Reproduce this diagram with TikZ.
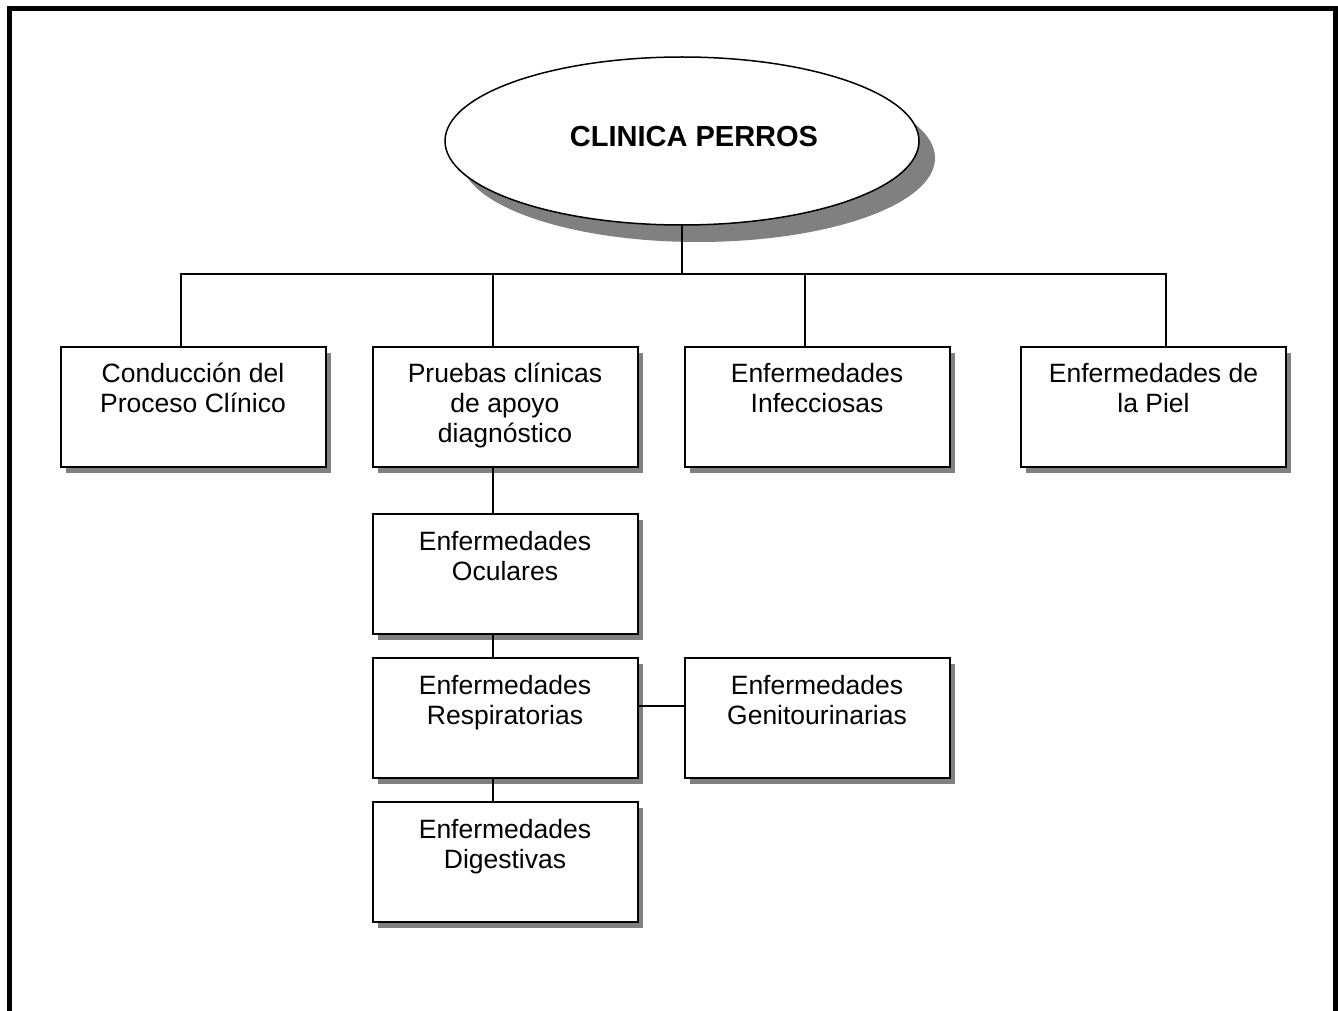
\documentclass[tikz,border=0pt]{standalone}
\usepackage{fontspec}
\setmainfont{Liberation Sans}
\usetikzlibrary{shapes.geometric,shadows}
\newcommand{\boxtext}[1]{\parbox[c][120pt][t]{255pt}{\fontsize{26.5}{30}\selectfont\centering\rule{0pt}{36pt}#1}}
\tikzset{
  area/.style={draw=black, line width=2pt, fill=white, inner sep=0pt,
    minimum width=265pt, minimum height=120pt,
    drop shadow={shadow xshift=5pt, shadow yshift=-6pt, fill=black!50, opacity=1}},
  link/.style={draw=black, line width=1.4pt}
}
\begin{document}
\begin{tikzpicture}[x=1pt,y=-1pt]
\useasboundingbox (0,0) rectangle (1338,1011);
\draw[line width=5pt] (9.5,1011) -- (9.5,8.5) -- (1335.5,8.5) -- (1335.5,1011);
\node[ellipse, draw=black, line width=1.5pt, fill=white, inner sep=0pt,
  minimum width=474pt, minimum height=168pt, text height=21pt, text depth=10pt,
  drop shadow={shadow xshift=16pt, shadow yshift=-17pt, fill=black!50, opacity=1},
  font=\bfseries\fontsize{29}{34}\selectfont] (clinica) at (682,141) {\hspace*{24pt}CLINICA PERROS};
% first row
\node[area] (conduccion) at (193,406.5) {\boxtext{Conducción del\\Proceso Clínico}};
\node[area] (pruebas) at (505,406.5) {\boxtext{Pruebas clínicas\\de apoyo\\diagnóstico}};
\node[area] (infecciosas) at (817,406.5) {\boxtext{Enfermedades\\Infecciosas}};
\node[area] (piel) at (1153.5,406.5) {\boxtext{Enfermedades de\\la Piel}};
% column under pruebas
\node[area] (oculares) at (505,574) {\boxtext{Enfermedades\\Oculares}};
\node[area] (respiratorias) at (505,718) {\boxtext{Enfermedades\\Respiratorias}};
\node[area] (digestivas) at (505,862) {\boxtext{Enfermedades\\Digestivas}};
\node[area] (genitourinarias) at (817,718) {\boxtext{Enfermedades\\Genitourinarias}};
% connectors
\coordinate (bus) at (682,274);
\draw[link] (clinica.south) -- (bus);
\foreach \b in {conduccion,pruebas,infecciosas} \draw[link] ([xshift=-12pt]\b.north) |- (bus);
\draw[link] ([xshift=12.5pt]piel.north) |- (bus);
\draw[link] ([xshift=-12pt]pruebas.south) -- ([xshift=-12pt]oculares.north);
\draw[link] ([xshift=-12pt]oculares.south) -- ([xshift=-12pt]respiratorias.north);
\draw[link] ([xshift=-12pt]respiratorias.south) -- ([xshift=-12pt]digestivas.north);
\draw[link] ([yshift=12pt]respiratorias.east) -- ([yshift=12pt]genitourinarias.west);
\end{tikzpicture}
\end{document}
